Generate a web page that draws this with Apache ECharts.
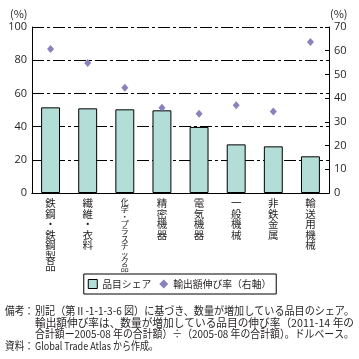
<!DOCTYPE html>
<html><head><meta charset="utf-8">
<script src="https://cdn.jsdelivr.net/npm/echarts@6/dist/echarts.min.js"></script>
<style>html,body{margin:0;padding:0;background:#fff}#c{width:359px;height:359px}</style>
</head><body><div id="c"></div>
<script>
const categories = ['鉄鋼・鉄鋼製品','繊維・衣料','化学・プラスチック品','精密機器','電気機器','一般機械','非鉄金属','輸送用機械'];
const shareValues = [51.6, 51.0, 50.4, 49.8, 39.8, 29.3, 28.1, 22.1];
const growthValues = [60.7, 54.8, 44.4, 36.0, 33.4, 37.0, 34.4, 63.7];
const leftTicks = [0, 20, 40, 60, 80, 100];
const rightTicks = [0, 10, 20, 30, 40, 50, 60, 70];
const seriesNames = ['品目シェア', '輸出額伸び率（右軸）'];
const noteLines = [
  '別記（第Ⅱ-1-1-3-6 図）に基づき、数量が増加している品目のシェア。',
  '輸出額伸び率は、数量が増加している品目の伸び率（2011-14 年の',
  '合計額ー2005-08 年の合計額）÷（2005-08 年の合計額）。ドルベース。',
  'Global Trade Atlas から作成。'
];

const FONT = '"Noto Sans CJK JP", "Noto Sans", sans-serif';
const TXT = '#231f20';

function measure(t, size) {
  const c = document.createElement('canvas').getContext('2d');
  c.font = size + 'px ' + FONT;
  return c.measureText(t).width;
}
function fitText(t, x, y, size, targetW) {
  const w = measure(t, size);
  const s = targetW ? targetW / w : 1;
  return { type: 'text', x: x, y: y, scaleX: s, style: { text: t, font: size + 'px ' + FONT, fill: TXT, textVerticalAlign: 'middle' } };
}

const chart = echarts.init(document.getElementById('c'));
const noteY = [311, 322.5, 334, 345.5];
const noteW = [319, 319, 319, 123];
const graphics = [
  { type: 'text', left: 10, top: 8, style: { text: '(%)', font: '11px ' + FONT, fill: TXT } },
  { type: 'text', left: 330, top: 8, style: { text: '(%)', font: '11px ' + FONT, fill: TXT } },
  fitText('備考：', 5, noteY[0], 11, 29),
  fitText('資料：', 5, noteY[3], 11, 29)
];
noteLines.forEach((t, i) => graphics.push(fitText(t, 35, noteY[i], 11, noteW[i])));

const catData = categories.map(c => {
  const long = c.length > 7;
  return {
    value: c,
    textStyle: long ? { fontSize: 8, lineHeight: 7.4 } : { fontSize: 10.5, lineHeight: 10.5 }
  };
});

chart.setOption({
  animation: false,
  textStyle: { fontFamily: FONT },
  grid: { left: 32, right: 30, top: 27, bottom: 166 },
  legend: {
    left: 'center', top: 274,
    padding: [5, 5, 5, 4],
    borderColor: '#000', borderWidth: 1, itemGap: 8,
    itemWidth: 9, itemHeight: 9,
    textStyle: { fontSize: 9.8, color: TXT },
    data: [
      { name: seriesNames[0], icon: 'rect', itemStyle: { color: '#b3ddd7', borderColor: '#000', borderWidth: 1 } },
      { name: seriesNames[1], icon: 'diamond' }
    ]
  },
  xAxis: [{
    type: 'category', data: catData, boundaryGap: true,
    axisLine: { lineStyle: { color: '#000', width: 1 } },
    axisTick: { inside: true, length: 5, lineStyle: { color: '#000' } },
    axisLabel: {
      interval: 0, margin: 5, verticalAlign: 'top', color: TXT, fontFamily: FONT,
      formatter: v => v.split('').join('\n')
    }
  }, {
    type: 'category', position: 'top', data: categories,
    axisLine: { lineStyle: { color: '#000', width: 1 } },
    axisTick: { show: false }, axisLabel: { show: false }
  }],
  yAxis: [{
    type: 'value', min: leftTicks[0], max: leftTicks[leftTicks.length - 1], interval: 20,
    axisLine: { show: true, lineStyle: { color: '#000' } },
    axisTick: { show: true, inside: true, length: 4, lineStyle: { color: '#000' } },
    axisLabel: { fontSize: 11, color: TXT, margin: 5, fontFamily: '"Open Sans", sans-serif' },
    splitLine: { show: true, lineStyle: { color: '#000', width: 1, type: [12, 3, 3, 3] } }
  }, {
    type: 'value', min: rightTicks[0], max: rightTicks[rightTicks.length - 1], interval: 10,
    position: 'right',
    axisLine: { show: true, lineStyle: { color: '#000' } },
    axisTick: { show: true, inside: true, length: 4, lineStyle: { color: '#000' } },
    axisLabel: { fontSize: 11, color: TXT, margin: 5, fontFamily: '"Open Sans", sans-serif' },
    splitLine: { show: false }
  }],
  series: [{
    name: seriesNames[0], type: 'bar', data: shareValues, barWidth: '51%',
    itemStyle: { color: '#b3ddd7', borderColor: '#000', borderWidth: 1 }
  }, {
    name: seriesNames[1], type: 'scatter', yAxisIndex: 1, data: growthValues,
    symbol: 'diamond', symbolSize: [7, 8],
    itemStyle: { color: '#6a63ad' }
  }],
  graphic: graphics
});
</script></body></html>
